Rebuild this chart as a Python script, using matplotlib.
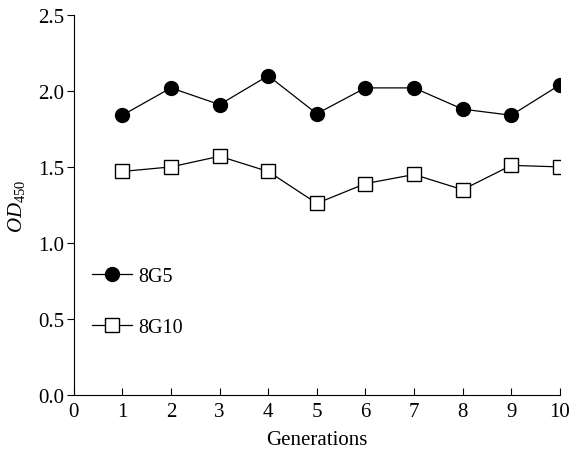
import numpy as np
import matplotlib
matplotlib.use("Agg")
import matplotlib.pyplot as plt

plt.rcParams['font.family'] = ['Liberation Serif', 'DejaVu Serif']
plt.rcParams['mathtext.fontset'] = 'custom'
plt.rcParams['mathtext.rm'] = 'Liberation Serif'
plt.rcParams['mathtext.it'] = 'Liberation Serif:italic'

# Data
generations = [1, 2, 3, 4, 5, 6, 7, 8, 9, 10]
od_8g5 = [1.84, 2.02, 1.91, 2.10, 1.85, 2.02, 2.02, 1.88, 1.84, 2.04]
od_8g10 = [1.47, 1.50, 1.57, 1.47, 1.26, 1.39, 1.45, 1.35, 1.51, 1.50]

fig = plt.figure(figsize=(5.76, 4.56), dpi=100)
ax = fig.add_axes([0.128, 0.132, 0.844, 0.833])

ax.plot(generations, od_8g5, '-o', color='black', lw=0.9,
        markersize=10, markerfacecolor='black', label='8G5')
ax.plot(generations, od_8g10, '-s', color='black', lw=0.9,
        markersize=10, markerfacecolor='white', markeredgewidth=1.0,
        label='8G10')

ax.set_xlim(0, 10)
ax.set_ylim(0, 2.5)
ax.set_xticks(range(0, 11))
ax.set_yticks(np.arange(0, 2.51, 0.5))
ax.set_yticklabels(['%.1f' % v for v in np.arange(0, 2.51, 0.5)])

for s in ['top', 'right']:
    ax.spines[s].set_visible(False)
ax.tick_params(axis='x', direction='in', length=5, labelsize=15, pad=5)
ax.tick_params(axis='y', direction='out', length=5, labelsize=15, pad=2)

ax.set_xlabel('Generations', fontsize=15, labelpad=7)
ax.set_ylabel(r'$OD_{\mathrm{450}}$', fontsize=15, labelpad=8)

ax.legend(loc='lower left', bbox_to_anchor=(0.0, 0.105), frameon=False,
          fontsize=14.5, labelspacing=1.55, handlelength=2.0,
          handletextpad=0.3)

fig.savefig('out.png', dpi=100)
